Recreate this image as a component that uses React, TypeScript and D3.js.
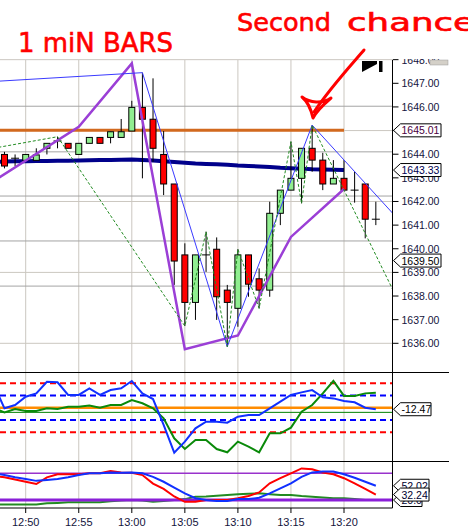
import React from 'react'
import * as d3 from 'd3'

// one-minute bars, 12:47 .. 13:23
const minuteLabels = [
  '12:47', '12:48', '12:49', '12:50', '12:51', '12:52', '12:53', '12:54', '12:55', '12:56',
  '12:57', '12:58', '12:59', '13:00', '13:01', '13:02', '13:03', '13:04', '13:05', '13:06',
  '13:07', '13:08', '13:09', '13:10', '13:11', '13:12', '13:13', '13:14', '13:15', '13:16',
  '13:17', '13:18', '13:19', '13:20', '13:21', '13:22', '13:23',
]

// candles start at 12:48
const opens = [
  1643.99, 1643.83, 1643.74, 1643.74, 1644.25, 1644.56, 1644.46, 1643.99, 1644.46, 1644.71,
  1644.71, 1644.71, 1644.98, 1645.98, 1645.48, 1643.99, 1642.74, 1639.74, 1637.73, 1639.74,
  1639.98, 1638.25, 1637.48, 1639.74, 1638.73, 1638.25, 1641.5, 1642.48, 1642.98, 1644.25,
  1643.75, 1642.74, 1642.98, 1642.48, 1642.74, 1641.25,
]
const highs = [
  1644.1, 1643.99, 1643.99, 1644.25, 1644.46, 1644.74, 1644.46, 1644.46, 1644.71, 1644.71,
  1644.95, 1645.49, 1646.26, 1647.45, 1647.21, 1644.98, 1642.74, 1640.23, 1639.74, 1640.72,
  1640.48, 1638.47, 1639.98, 1639.74, 1639.17, 1641.99, 1642.48, 1644.53, 1644.25, 1645.23,
  1644.06, 1643.75, 1643.75, 1643.26, 1642.74, 1641.99,
]
const lows = [
  1643.4, 1643.5, 1643.74, 1643.74, 1643.99, 1644.25, 1644.25, 1643.99, 1644.46, 1644.46,
  1644.46, 1644.71, 1644.98, 1642.98, 1643.68, 1642.27, 1638.47, 1636.73, 1636.99, 1639.02,
  1636.99, 1635.86, 1636.7, 1637.97, 1637.48, 1637.97, 1641.0, 1642.48, 1641.92, 1643.26,
  1642.48, 1642.74, 1642.48, 1641.95, 1640.44, 1641.0,
]
const closes = [
  1643.5, 1643.83, 1643.99, 1643.97, 1644.46, 1644.56, 1644.25, 1644.46, 1644.71, 1644.46,
  1644.95, 1644.95, 1645.98, 1645.48, 1644.25, 1642.74, 1639.48, 1637.73, 1639.74, 1639.74,
  1637.97, 1637.73, 1639.74, 1638.5, 1638.25, 1641.5, 1642.48, 1642.98, 1644.25, 1643.75,
  1642.74, 1642.98, 1642.48, 1642.48, 1641.25, 1641.25,
]

// moving average 12:47 .. 13:20
const maValues = [
  1643.68, 1643.69, 1643.7, 1643.7, 1643.71, 1643.71, 1643.72, 1643.72, 1643.73, 1643.74,
  1643.75, 1643.76, 1643.77, 1643.78, 1643.76, 1643.73, 1643.7, 1643.67, 1643.64, 1643.61,
  1643.59, 1643.57, 1643.55, 1643.52, 1643.5, 1643.48, 1643.46, 1643.43, 1643.41, 1643.39,
  1643.36, 1643.35, 1643.34, 1643.33,
]

const zigTimes = ['12:40', '12:53', '13:05', '13:07', '13:09', '13:10', '13:12', '13:15', '13:16', '13:17', '13:25']
const zigPrices = [1643.69, 1644.74, 1636.73, 1640.72, 1635.86, 1639.98, 1637.48, 1644.53, 1641.92, 1645.23, 1637.9]

const trendTimes = ['12:35', '13:01', '13:09', '13:17', '13:25']
const trendPrices = [1646.76, 1647.45, 1635.86, 1645.23, 1641.3]

const swingTimes = ['12:45', '12:55', '13:00', '13:05', '13:10', '13:15', '13:20']
const swingPrices = [1642.3, 1645.16, 1647.84, 1635.75, 1636.33, 1640.5, 1642.53]

const levelPrice = 1645.01
const levelEnd = '13:20'
const markerPrice = 1639.5

// oscillator panel, 12:47 .. 13:23
const oscBlue = [
  185, -5, 22, 90, 117, 212, 207, 104, 104, 158, 104, 144, 158, 218, 117, 71, -141, -367, -277,
  -168, -114, -114, -122, -73, -60, -60, -5, 49, 104, 125, 144, 85, 76, 55, 44, 0, -12.47,
]
const oscGreen = [
  -5, -38, -11, -27, -27, -5, -11, 8, 8, 17, 0, 22, 22, 63, 36, -5, -87, -250, -337,
  -264, -264, -337, -364, -277, -318, -364, -209, -209, -163, -32, 22, 117, 218, 96, 96, 117, 123,
]
const oscRedLevels = [200, -200]
const oscBlueLevels = [100, -100]
const oscZero = 0
const oscSignal = -38

// stochastic panel, 12:47 .. 13:23
const stochRed = [
  74, 71, 66, 61, 56, 71, 78, 78, 78, 80, 80, 85, 82, 81, 76, 57, 45, 28, 16,
  16, 20, 20, 20, 24, 29, 37, 57.5, 69, 80, 91, 89, 82, 78, 69, 57.5, 45, 32.24,
]
const stochBlue = [
  80, 76, 71, 67, 63, 65, 67, 71, 76, 80, 80, 82, 81, 82, 80, 72, 61, 48, 35,
  24, 20, 18, 18, 22, 22, 25, 35, 46, 57.5, 72, 82, 84, 84, 78, 70, 61, 52.02,
]
const stochGreen = [
  10, 10, 10, 10, 10, 12.5, 13.5, 14.8, 14.8, 14.8, 14.8, 17, 19, 20, 19, 16.3, 18, 20, 22,
  27.5, 28, 29.7, 31, 32.7, 34, 35, 33, 31.2, 31.2, 29, 27.5, 25.5, 23.8, 23.8, 22, 20, 20,
]
const stochUpper = 80
const stochLower = 20

const timeTicks = ['12:50', '12:55', '13:00', '13:05', '13:10', '13:15', '13:20']
const priceTicks = [1636, 1637, 1638, 1639, 1640, 1641, 1642, 1643, 1644, 1645, 1646, 1647, 1648]
const lightGrid = [1636, 1639, 1642, 1645, 1648]
const darkGrid = [1638.42, 1640.33, 1642.23, 1644.1, 1646.03]

const parse = d3.timeParse('%H:%M')
const T = (s: string) => parse(s) as Date

const FONT = 'Liberation Sans, Arial, sans-serif'
const AXIS_COLOR = '#14143c'
const AXIS_X = 392.5

const x = d3.scaleTime().domain([T('12:50'), T('13:20')]).range([25.7, 344])
const yP = d3.scaleLinear().domain([1636, 1647]).range([343.3, 83.3])
const yO = d3.scaleLinear().domain([-200, 200]).range([432.2, 383.2])
const yS = d3.scaleLinear().domain([0, 100]).range([508.9, 464.4])

const ValueTag = ({ y, text, color, right }: { y: number; text: string; color: string; right: number }) => (
  <g>
    <path
      d={`M${AXIS_X + 1},${y} L${AXIS_X + 8},${y - 6.5} L${right},${y - 6.5} L${right},${y + 6.5} L${AXIS_X + 8},${y + 6.5} Z`}
      fill="#fff"
      stroke="#000"
      strokeWidth={1}
    />
    <text x={AXIS_X + 9} y={y + 4} fontSize={10.5} fontFamily={FONT} fill={color}>
      {text}
    </text>
  </g>
)

export default function App() {
  const bars = opens.map((o, i) => ({
    t: T(minuteLabels[i + 1]),
    o,
    h: highs[i],
    l: lows[i],
    c: closes[i],
  }))

  const priceLine = d3
    .line<[Date, number]>()
    .x(d => x(d[0]))
    .y(d => yP(d[1]))
  const oscLine = d3
    .line<[Date, number]>()
    .x(d => x(d[0]))
    .y(d => yO(d[1]))
  const stochLine = d3
    .line<[Date, number]>()
    .x(d => x(d[0]))
    .y(d => yS(d[1]))

  const pairs = (times: string[], vals: number[]) => vals.map((v, i) => [T(times[i]), v] as [Date, number])

  const bodyW = 6
  const lastMa = maValues[maValues.length - 1]
  const lastOsc = oscBlue[oscBlue.length - 1]
  const lastBlue = stochBlue[stochBlue.length - 1]
  const lastRed = stochRed[stochRed.length - 1]

  return (
    <svg
      width={468}
      height={528}
      style={{ position: 'absolute', left: 0, top: 0, background: '#fff' }}
    >
      <defs>
        <clipPath id="pricePane">
          <rect x={0} y={59} width={AXIS_X} height={313} />
        </clipPath>
        <clipPath id="oscPane">
          <rect x={0} y={373} width={AXIS_X} height={88} />
        </clipPath>
        <clipPath id="stochPane">
          <rect x={0} y={462} width={AXIS_X} height={46} />
        </clipPath>
        <clipPath id="axisTop">
          <rect x={AXIS_X} y={59} width={80} height={320} />
        </clipPath>
      </defs>

      {/* vertical grid */}
      {timeTicks.map(t => (
        <line key={t} x1={x(T(t))} x2={x(T(t))} y1={60} y2={508} stroke="#cbc7c0" strokeWidth={1} />
      ))}

      {/* price pane */}
      <g clipPath="url(#pricePane)">
        {lightGrid.map(p => (
          <line key={'l' + p} x1={0} x2={AXIS_X} y1={yP(p)} y2={yP(p)} stroke="#cbc7c0" />
        ))}
        {darkGrid.map(p => (
          <line key={'d' + p} x1={0} x2={AXIS_X} y1={yP(p)} y2={yP(p)} stroke="#a4a4a4" />
        ))}

        <line
          x1={0}
          x2={x(T(levelEnd))}
          y1={yP(levelPrice)}
          y2={yP(levelPrice)}
          stroke="#d2691e"
          strokeWidth={3}
        />
        <path
          d={priceLine(pairs(minuteLabels, maValues)) || ''}
          fill="none"
          stroke="#00008b"
          strokeWidth={4}
        />

        {bars.map((b, i) => {
          const cx = x(b.t)
          const up = b.c > b.o
          const doji = b.c === b.o
          const top = yP(Math.max(b.o, b.c))
          const bot = yP(Math.min(b.o, b.c))
          return (
            <g key={i}>
              <line x1={cx} x2={cx} y1={yP(b.h)} y2={yP(b.l)} stroke="#000" strokeWidth={1} />
              {doji ? (
                <line x1={cx - 4} x2={cx + 4} y1={top} y2={top} stroke="#000" strokeWidth={1} />
              ) : (
                <rect
                  x={cx - bodyW / 2}
                  y={top}
                  width={bodyW}
                  height={Math.max(1, bot - top)}
                  fill={up ? '#90ee90' : '#ff0000'}
                  stroke="#000"
                  strokeWidth={1}
                />
              )}
            </g>
          )
        })}

        <path
          d={priceLine(pairs(swingTimes, swingPrices)) || ''}
          fill="none"
          stroke="#9b3fd6"
          strokeWidth={2.5}
        />
        <path
          d={priceLine(pairs(trendTimes, trendPrices)) || ''}
          fill="none"
          stroke="#3a3aff"
          strokeWidth={1}
        />
        <path
          d={priceLine(pairs(zigTimes, zigPrices)) || ''}
          fill="none"
          stroke="#228b22"
          strokeWidth={1}
          strokeDasharray="3,2"
        />
      </g>

      {/* oscillator pane */}
      <g clipPath="url(#oscPane)">
        {oscRedLevels.map(v => (
          <line key={'r' + v} x1={0} x2={AXIS_X} y1={yO(v)} y2={yO(v)} stroke="#ff0000" strokeWidth={2} strokeDasharray="6,4" />
        ))}
        {oscBlueLevels.map(v => (
          <line key={'b' + v} x1={0} x2={AXIS_X} y1={yO(v)} y2={yO(v)} stroke="#0000ff" strokeWidth={2} strokeDasharray="6,4" />
        ))}
        <line x1={0} x2={AXIS_X} y1={yO(oscZero)} y2={yO(oscZero)} stroke="#ff8c00" strokeWidth={2.5} />
        <line x1={0} x2={AXIS_X} y1={yO(oscSignal)} y2={yO(oscSignal)} stroke="#008000" strokeWidth={1} />
        <path d={oscLine(pairs(minuteLabels, oscGreen)) || ''} fill="none" stroke="#0a8a0a" strokeWidth={2} />
        <path d={oscLine(pairs(minuteLabels, oscBlue)) || ''} fill="none" stroke="#1030ff" strokeWidth={2} />
      </g>

      {/* stochastic pane */}
      <g clipPath="url(#stochPane)">
        <line x1={0} x2={AXIS_X} y1={yS(stochUpper)} y2={yS(stochUpper)} stroke="#9932cc" strokeWidth={1.5} />
        <path d={stochLine(pairs(minuteLabels, stochGreen)) || ''} fill="none" stroke="#228b22" strokeWidth={2} />
        <line x1={0} x2={AXIS_X} y1={yS(stochLower)} y2={yS(stochLower)} stroke="#8a1fd8" strokeWidth={3} />
        <path d={stochLine(pairs(minuteLabels, stochRed)) || ''} fill="none" stroke="#ff0000" strokeWidth={2} />
        <path d={stochLine(pairs(minuteLabels, stochBlue)) || ''} fill="none" stroke="#1030ff" strokeWidth={2} />
      </g>

      {/* frame */}
      <line x1={AXIS_X} x2={AXIS_X} y1={60} y2={508} stroke="#000" />
      <line x1={0} x2={449} y1={372.5} y2={372.5} stroke="#000" />
      <line x1={0} x2={449} y1={461.5} y2={461.5} stroke="#000" />
      <line x1={0} x2={AXIS_X} y1={508} y2={508} stroke="#000" />

      {/* price axis */}
      <g clipPath="url(#axisTop)">
        {priceTicks.map(p => (
          <g key={p}>
            <line x1={AXIS_X} x2={AXIS_X + 6} y1={yP(p)} y2={yP(p)} stroke="#000" />
            <text x={AXIS_X + 9} y={yP(p) + 4} fontSize={10.5} fontFamily={FONT} fill={AXIS_COLOR}>
              {p.toFixed(2)}
            </text>
          </g>
        ))}
      </g>
      <rect x={430} y={60} width={18} height={5} fill="#d4d0c8" stroke="#9a9a9a" strokeWidth={0.5} />

      <ValueTag y={yP(levelPrice)} text={levelPrice.toFixed(2)} color="#4a0040" right={441} />
      <ValueTag y={yP(lastMa)} text={lastMa.toFixed(2)} color="#000050" right={441} />
      <ValueTag y={yP(markerPrice)} text={markerPrice.toFixed(2)} color="#000" right={441} />

      <ValueTag y={yO(lastOsc)} text={lastOsc.toFixed(2)} color="#000" right={431} />
      <ValueTag y={yS(lastBlue)} text={lastBlue.toFixed(2)} color="#000030" right={429} />
      <ValueTag y={yS(stochLower)} text={stochLower.toFixed(1)} color="#000030" right={422} />
      <ValueTag y={yS(lastRed)} text={lastRed.toFixed(2)} color="#000030" right={429} />

      {/* time axis */}
      {timeTicks.map(t => (
        <g key={'x' + t}>
          <line x1={x(T(t))} x2={x(T(t))} y1={508} y2={513} stroke="#000" />
          <text x={x(T(t))} y={525.5} textAnchor="middle" fontSize={11} fontFamily={FONT} fill={AXIS_COLOR}>
            {t}
          </text>
        </g>
      ))}

      {/* scroll-to-end button */}
      <path d="M362,61 L362,72 L377,64 L377,61 Z" fill="#000" />
      <rect x={379} y={61} width={3.5} height={11} fill="#000" />

      {/* hand-drawn notes */}
      <text
        x={18}
        y={52}
        fontSize={27}
        fontFamily="DejaVu Sans, sans-serif"
        fill="#ff0000"
        stroke="#ff0000"
        strokeWidth={0.6}
        textLength={155}
        lengthAdjust="spacingAndGlyphs"
      >
        1 miN BARS
      </text>
      <text
        x={237}
        y={31}
        fontSize={25}
        fontFamily="DejaVu Sans, sans-serif"
        fill="#ff0000"
        stroke="#ff0000"
        strokeWidth={0.6}
        textLength={94}
        lengthAdjust="spacingAndGlyphs"
      >
        Second
      </text>
      <text
        x={347}
        y={31}
        fontSize={25}
        fontFamily="DejaVu Sans, sans-serif"
        fill="#ff0000"
        stroke="#ff0000"
        strokeWidth={0.6}
        textLength={128}
        lengthAdjust="spacingAndGlyphs"
      >
        chance
      </text>
      <path
        d="M364,50 C352,64 330,88 314,112"
        fill="none"
        stroke="#ff0000"
        strokeWidth={3}
        strokeLinecap="round"
      />
      <path
        d="M302,97 C310,103 322,104 331,98 C324,104 317,110 313,118 C311,109 308,102 302,97 Z"
        fill="none"
        stroke="#ff0000"
        strokeWidth={3}
        strokeLinejoin="round"
      />
    </svg>
  )
}
